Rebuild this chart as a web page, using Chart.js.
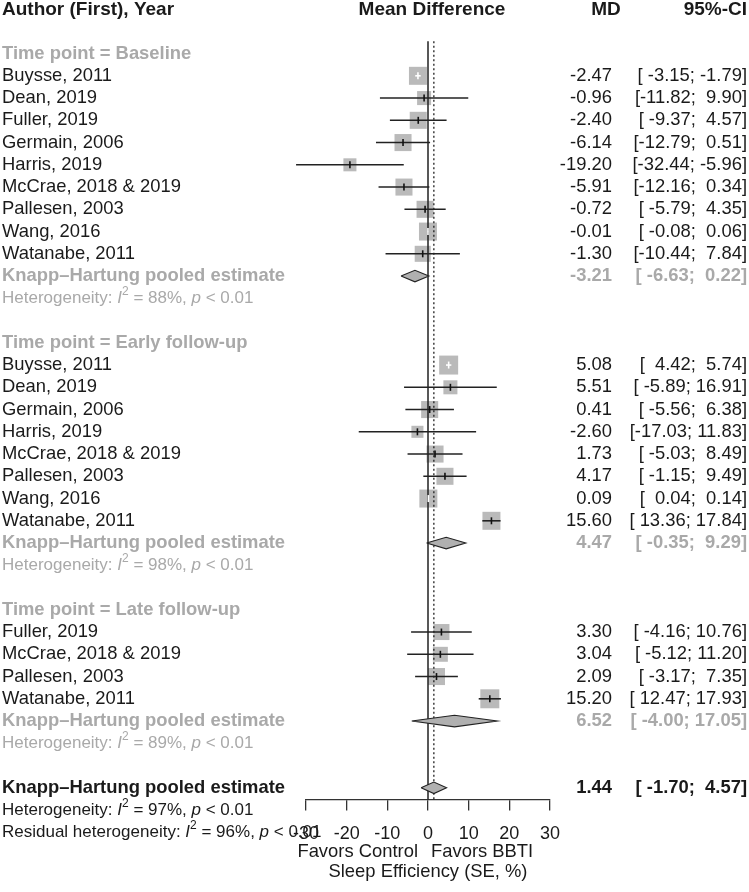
<!DOCTYPE html>
<html>
<head>
<meta charset="utf-8">
<title>Forest plot - Sleep Efficiency</title>
<script src="https://cdn.jsdelivr.net/npm/chart.js@4.4.0/dist/chart.umd.min.js"></script>
<style>
  body { margin: 0; background: #fff; }
  #wrap { width: 749px; height: 892px; }
</style>
</head>
<body>
<div id="wrap"><canvas id="forest" width="749" height="892"></canvas></div>
<script>
// ---- data ----
const baselineStudies = ['Buysse, 2011', 'Dean, 2019', 'Fuller, 2019', 'Germain, 2006', 'Harris, 2019',
  'McCrae, 2018 & 2019', 'Pallesen, 2003', 'Wang, 2016', 'Watanabe, 2011'];
const baselineMD = [-2.47, -0.96, -2.40, -6.14, -19.20, -5.91, -0.72, -0.01, -1.30];
const baselineLower = [-3.15, -11.82, -9.37, -12.79, -32.44, -12.16, -5.79, -0.08, -10.44];
const baselineUpper = [-1.79, 9.90, 4.57, 0.51, -5.96, 0.34, 4.35, 0.06, 7.84];
const baselineWeight = [10.7, 6.5, 9.6, 9.6, 5.6, 9.6, 9.6, 10.7, 8.5];

const earlyStudies = ['Buysse, 2011', 'Dean, 2019', 'Germain, 2006', 'Harris, 2019',
  'McCrae, 2018 & 2019', 'Pallesen, 2003', 'Wang, 2016', 'Watanabe, 2011'];
const earlyMD = [5.08, 5.51, 0.41, -2.60, 1.73, 4.17, 0.09, 15.60];
const earlyLower = [4.42, -5.89, -5.56, -17.03, -5.03, -1.15, 0.04, 13.36];
const earlyUpper = [5.74, 16.91, 6.38, 11.83, 8.49, 9.49, 0.14, 17.84];
const earlyWeight = [11.9, 6.5, 9.6, 4.8, 9.6, 9.6, 10.7, 10.7];

const lateStudies = ['Fuller, 2019', 'McCrae, 2018 & 2019', 'Pallesen, 2003', 'Watanabe, 2011'];
const lateMD = [3.30, 3.04, 2.09, 15.20];
const lateLower = [-4.16, -5.12, -3.17, 12.47];
const lateUpper = [10.76, 11.20, 7.35, 17.93];
const lateWeight = [8.5, 7.4, 9.6, 11.9];

const groupNames = ['Baseline', 'Early follow-up', 'Late follow-up'];
const pooledMD = [-3.21, 4.47, 6.52];
const pooledLower = [-6.63, -0.35, -4.00];
const pooledUpper = [0.22, 9.29, 17.05];
const groupI2 = [88, 98, 89];

const overallMD = 1.44;
const overallLower = -1.70;
const overallUpper = 4.57;
const overallI2 = 97;
const residualI2 = 96;

const xTicks = [-30, -20, -10, 0, 10, 20, 30];

// ---- look ----
const FONT = '"Liberation Sans", Arial, sans-serif';
const GRAY_TEXT = '#a9a9a9';
const INK = '#1a1a1a';
const SQUARE = '#bababa';
const yMin = -0.408, yMax = 35.527;   // row index range of the plot area
const DIAMOND_H = 0.26;

const groups = [
  { name: groupNames[0], studies: baselineStudies, md: baselineMD, lo: baselineLower, hi: baselineUpper, w: baselineWeight },
  { name: groupNames[1], studies: earlyStudies, md: earlyMD, lo: earlyLower, hi: earlyUpper, w: earlyWeight },
  { name: groupNames[2], studies: lateStudies, md: lateMD, lo: lateLower, hi: lateUpper, w: lateWeight }
];

// lay out rows: header, blank, then each subgroup block
const textRows = [];
const squarePts = [];
const tickPts = [];
const ciSets = [];
const diamondSets = [];
let row = 2;

function sideOf(w) { return 5.5 * Math.sqrt(w); }

function insideSquare(chart, lo, hi, side) {
  const s = chart.scales.x;
  return (s.getPixelForValue(hi) - s.getPixelForValue(lo)) < side;
}

function addDiamond(md, lo, hi, r) {
  diamondSets.push({
    data: [{ x: lo, y: r }, { x: md, y: r - DIAMOND_H }, { x: hi, y: r }, { x: md, y: r + DIAMOND_H }, { x: lo, y: r }],
    showLine: true, fill: 'shape', backgroundColor: '#b0b0b0', borderColor: '#222', borderWidth: 1.1,
    pointRadius: 0, tension: 0, clip: false, order: 3
  });
}

groups.forEach((g, gi) => {
  textRows.push({ row: row++, kind: 'group', label: 'Time point = ' + g.name });
  g.studies.forEach((name, i) => {
    const side = sideOf(g.w[i]);
    const lo = g.lo[i], hi = g.hi[i];
    squarePts.push({ x: g.md[i], y: row, r: side / Math.SQRT2 });
    tickPts.push({ x: g.md[i], y: row, lo: lo, hi: hi, side: side });
    ciSets.push({
      data: [{ x: lo, y: row }, { x: hi, y: row }],
      showLine: true, pointRadius: 0, borderWidth: 1.6, clip: false, order: 2,
      borderColor: ctx => insideSquare(ctx.chart, lo, hi, side) ? '#ffffff' : '#222222'
    });
    textRows.push({ row: row++, kind: 'study', label: name, md: g.md[i], lo: lo, hi: hi });
  });
  addDiamond(pooledMD[gi], pooledLower[gi], pooledUpper[gi], row);
  textRows.push({ row: row++, kind: 'pooled', label: 'Knapp\u2013Hartung pooled estimate',
    md: pooledMD[gi], lo: pooledLower[gi], hi: pooledUpper[gi] });
  textRows.push({ row: row++, kind: 'het', prefix: 'Heterogeneity: ', i2: groupI2[gi], color: GRAY_TEXT });
  row++;
});
addDiamond(overallMD, overallLower, overallUpper, row);
textRows.push({ row: row++, kind: 'overall', label: 'Knapp\u2013Hartung pooled estimate',
  md: overallMD, lo: overallLower, hi: overallUpper });
textRows.push({ row: row++, kind: 'het', prefix: 'Heterogeneity: ', i2: overallI2, color: INK });
textRows.push({ row: row++, kind: 'het', prefix: 'Residual heterogeneity: ', i2: residualI2, color: INK });

// R style number padding for the CI column
function pad(v, n) {
  let s = v.toFixed(2);
  while (s.length < n) s = ' ' + s;
  return s;
}
function ciText(lo, hi) { return '[' + pad(lo, 6) + '; ' + pad(hi, 5) + ']'; }

function drawRuns(ctx, runs, x0, yc, size, color) {
  let xx = x0;
  ctx.fillStyle = color;
  ctx.textAlign = 'left';
  ctx.textBaseline = 'middle';
  runs.forEach(r => {
    const fs = r.sup ? Math.round(size * 0.68) : size;
    ctx.font = (r.italic ? 'italic ' : '') + fs + 'px ' + FONT;
    ctx.fillText(r.t, xx, r.sup ? yc - size * 0.38 : yc);
    xx += ctx.measureText(r.t).width;
  });
}

const forestText = {
  id: 'forestText',
  afterDraw(chart) {
    const { ctx, scales: { x, y } } = chart;
    ctx.save();
    ctx.textBaseline = 'middle';

    // column headings
    const hy = y.getPixelForValue(0) + 1;
    ctx.font = 'bold 19px ' + FONT;
    ctx.fillStyle = INK;
    ctx.textAlign = 'left';
    ctx.fillText('Author (First), Year', 2, hy);
    ctx.textAlign = 'center';
    ctx.fillText('Mean Difference', 432, hy);
    ctx.fillText('MD', 606, hy);
    ctx.textAlign = 'right';
    ctx.fillText('95%-CI', 747, hy);

    textRows.forEach(t => {
      const py = y.getPixelForValue(t.row);
      if (t.kind === 'het') {
        drawRuns(ctx, [
          { t: t.prefix }, { t: 'I', italic: true }, { t: '2', sup: true },
          { t: ' = ' + t.i2 + '%, ' }, { t: 'p', italic: true }, { t: ' < 0.01' }
        ], 2, py, 17, t.color);
        return;
      }
      let color = INK, weight = '';
      if (t.kind === 'group' || t.kind === 'pooled') { color = GRAY_TEXT; weight = 'bold '; }
      if (t.kind === 'overall') weight = 'bold ';
      ctx.fillStyle = color;
      ctx.font = weight + '18.4px ' + FONT;
      ctx.textAlign = 'left';
      ctx.fillText(t.label, 2, py);
      if (t.md !== undefined) {
        ctx.textAlign = 'right';
        ctx.fillText(t.md.toFixed(2), 612, py);
        ctx.fillText(ciText(t.lo, t.hi), 747, py);
      }
    });

    // favours labels under the axis
    const fy = chart.chartArea.bottom + 52;
    const x0 = x.getPixelForValue(0);
    ctx.font = '18.4px ' + FONT;
    ctx.fillStyle = INK;
    ctx.textAlign = 'right';
    ctx.fillText('Favors Control', x0 - 10, fy);
    ctx.textAlign = 'left';
    ctx.fillText('Favors BBTI', x0 + 3, fy);
    ctx.restore();
  }
};

const datasets = [
  { // estimate tick marks
    data: tickPts, pointStyle: 'line', pointRotation: 90, pointRadius: 3.5, borderWidth: 1.6,
    pointBorderColor: ctx => (ctx.raw && insideSquare(ctx.chart, ctx.raw.lo, ctx.raw.hi, ctx.raw.side)) ? '#ffffff' : '#111111',
    clip: false, order: 1
  },
  ...ciSets,
  ...diamondSets,
  { // line of no effect
    data: [{ x: 0, y: 1.45 }, { x: 0, y: yMax }], showLine: true, pointRadius: 0,
    borderColor: '#222', borderWidth: 1.5, clip: false, order: 4
  },
  { // overall estimate reference
    data: [{ x: overallMD, y: 1.45 }, { x: overallMD, y: yMax }], showLine: true, pointRadius: 0,
    borderColor: '#222', borderWidth: 1.3, borderDash: [2, 2.5], clip: false, order: 4
  },
  { // study squares
    data: squarePts, pointStyle: 'rect', pointRadius: squarePts.map(p => p.r),
    backgroundColor: SQUARE, borderWidth: 0, clip: false, order: 5
  }
];

new Chart(document.getElementById('forest'), {
  type: 'scatter',
  data: { datasets: datasets },
  options: {
    responsive: false,
    animation: false,
    events: [],
    layout: { autoPadding: false, padding: { left: 306, right: 199, top: 0, bottom: 8.8 } },
    plugins: { legend: { display: false }, tooltip: { enabled: false } },
    scales: {
      x: {
        type: 'linear', min: -30, max: 30,
        afterBuildTicks: axis => { axis.ticks = xTicks.map(v => ({ value: v })); },
        ticks: { font: { family: FONT, size: 18 }, color: INK, padding: 13, maxRotation: 0, autoSkip: false },
        grid: { display: true, drawOnChartArea: false, drawTicks: true, tickLength: 11, color: '#333', lineWidth: 1.3 },
        border: { display: true, color: '#333', width: 1.3 },
        title: { display: true, text: 'Sleep Efficiency (SE, %)', font: { family: FONT, size: 18.4 }, color: INK,
          padding: { top: 3, bottom: 0 } }
      },
      y: { type: 'linear', display: false, reverse: true, min: yMin, max: yMax }
    }
  },
  plugins: [forestText]
});
</script>
</body>
</html>
